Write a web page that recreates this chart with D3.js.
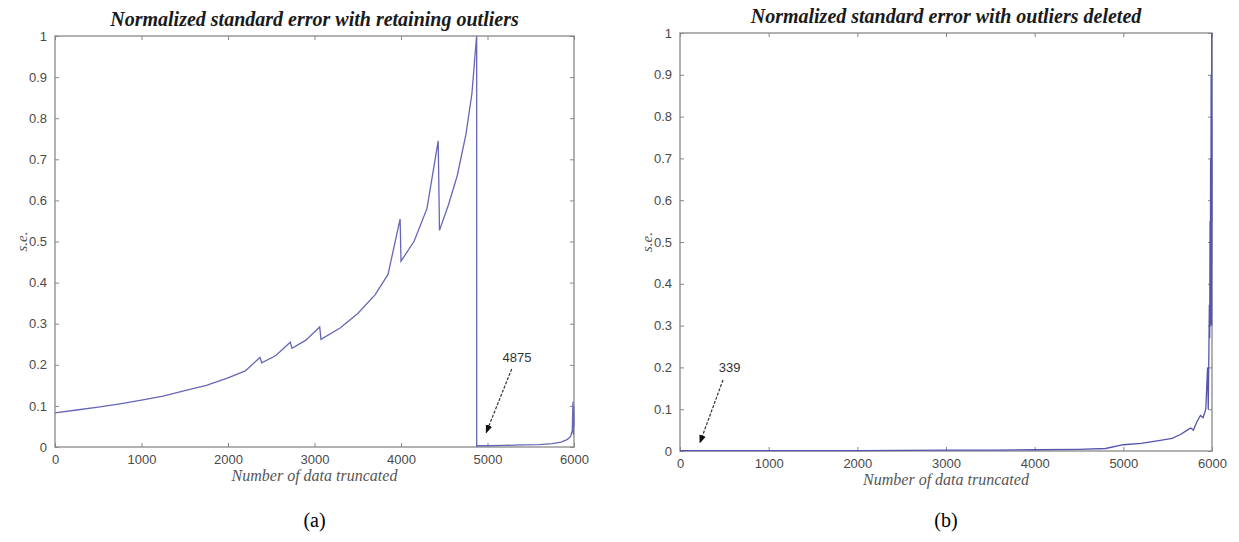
<!DOCTYPE html>
<head>
    <meta charset="utf-8">
    <script src="https://cdn.jsdelivr.net/npm/d3@7"></script>
    <style>
        body { margin: 0; background: white; }
        .tick text { font-family: "Liberation Sans", Arial, sans-serif; font-size: 13px; fill: #4a4a4a; }
        .tick line { stroke: #888; }
    </style>
</head>

<body>
<script>

    // data
    var xTicks = [0, 1000, 2000, 3000, 4000, 5000, 6000];
    var yTicks = [0, 0.1, 0.2, 0.3, 0.4, 0.5, 0.6, 0.7, 0.8, 0.9, 1];

    // (a) retaining outliers
    var retainX = [0, 250, 500, 750, 1000, 1250, 1500, 1750, 2000, 2200, 2370, 2390, 2550, 2720, 2740, 2900, 3060, 3075,
        3300, 3500, 3700, 3850, 3990, 4000, 4150, 4300, 4430, 4445, 4550, 4650, 4750, 4820, 4870, 4875, 4875, 4880,
        5000, 5200, 5400, 5600, 5750, 5850, 5920, 5960, 5980, 5988, 5992, 5996, 6000];
    var retainY = [0.083, 0.09, 0.097, 0.105, 0.114, 0.124, 0.137, 0.15, 0.168, 0.185, 0.218, 0.205, 0.222, 0.255, 0.24, 0.26, 0.292, 0.262,
        0.29, 0.325, 0.37, 0.42, 0.555, 0.452, 0.5, 0.58, 0.745, 0.527, 0.59, 0.66, 0.76, 0.86, 0.99, 1.0, 0.0, 0.003,
        0.003, 0.004, 0.005, 0.006, 0.008, 0.012, 0.018, 0.025, 0.04, 0.11, 0.03, 0.1, 0.05];

    // (b) outliers deleted
    var deletedX = [0, 1000, 2000, 3000, 3500, 4000, 4500, 4800, 5000, 5200, 5400, 5550, 5650, 5720, 5760, 5790, 5830, 5870, 5900,
        5930, 5950, 5958, 5966, 5970, 5974, 5978, 5981, 5984, 5987, 5990, 5992, 5994, 5996, 5997, 5998, 5999, 6000];
    var deletedY = [0.001, 0.001, 0.001, 0.002, 0.002, 0.003, 0.004, 0.006, 0.015, 0.018, 0.025, 0.03, 0.04, 0.05, 0.055, 0.05, 0.07, 0.085, 0.08,
        0.1, 0.2, 0.1, 0.26, 0.35, 0.27, 0.55, 0.3, 0.7, 0.35, 0.9, 0.4, 0.65, 0.3, 1.0, 0.45, 0.8, 0.55];

    // annotations: [label, textX, textY, tailX, tailY, headX, headY] in data units
    var noteA = ["4875", 5340, 0.218, 5280, 0.19, 4985, 0.035];
    var noteB = ["339", 560, 0.2, 485, 0.17, 225, 0.02];

    var titles = ["Normalized standard error with retaining outliers", "Normalized standard error with outliers deleted"];
    var captions = ["(a)", "(b)"];

    var svg = d3.select("body").append("svg")
        .attr("width", 1239)
        .attr("height", 542);

    svg.append("defs").append("marker")
        .attr("id", "arrow")
        .attr("viewBox", "0 0 10 10")
        .attr("refX", 9).attr("refY", 5)
        .attr("markerWidth", 7).attr("markerHeight", 7)
        .attr("orient", "auto")
        .append("path")
        .attr("d", "M0,1 L10,5 L0,9 z")
        .attr("fill", "#111");

    function drawPanel(box, xs, ys, note, title, caption, lineColor) {
        var x = d3.scaleLinear().domain([0, 6000]).range([box.left, box.right]);
        var y = d3.scaleLinear().domain([0, 1]).range([box.bottom, box.top]);
        var g = svg.append("g");

        // frame
        g.append("rect")
            .attr("x", box.left).attr("y", box.top)
            .attr("width", box.right - box.left).attr("height", box.bottom - box.top)
            .attr("fill", "none").attr("stroke", "#999").attr("stroke-width", 1.5);

        var fmt = function(d) { return d; };
        g.append("g").attr("transform", "translate(0," + box.bottom + ")")
            .call(d3.axisBottom(x).tickValues(xTicks).tickFormat(fmt).tickSizeInner(-4).tickSizeOuter(0).tickPadding(8));
        g.append("g").attr("transform", "translate(0," + box.top + ")")
            .call(d3.axisTop(x).tickValues(xTicks).tickFormat("").tickSizeInner(-4).tickSizeOuter(0));
        g.append("g").attr("transform", "translate(" + box.left + ",0)")
            .call(d3.axisLeft(y).tickValues(yTicks).tickFormat(fmt).tickSizeInner(-4).tickSizeOuter(0).tickPadding(8));
        g.append("g").attr("transform", "translate(" + box.right + ",0)")
            .call(d3.axisRight(y).tickValues(yTicks).tickFormat("").tickSizeInner(-4).tickSizeOuter(0));
        g.selectAll(".domain").remove();

        var pts = xs.map(function(v, i) { return [v, ys[i]]; });
        var line = d3.line().x(function(d) { return x(d[0]); }).y(function(d) { return y(d[1]); });
        g.append("path").datum(pts)
            .attr("d", line)
            .attr("fill", "none")
            .attr("stroke", lineColor)
            .attr("stroke-width", 1.3);

        // annotation
        g.append("text")
            .attr("x", x(note[1])).attr("y", y(note[2]))
            .attr("text-anchor", "middle")
            .attr("dy", "0.35em")
            .style("font-family", "Liberation Sans, Arial, sans-serif")
            .style("font-size", "13px")
            .style("fill", "#333")
            .text(note[0]);
        g.append("line")
            .attr("x1", x(note[3])).attr("y1", y(note[4]))
            .attr("x2", x(note[5])).attr("y2", y(note[6]))
            .attr("stroke", "#333").attr("stroke-width", 1.2)
            .attr("stroke-dasharray", "3,1.5")
            .attr("marker-end", "url(#arrow)");

        var cx = (box.left + box.right) / 2;
        g.append("text")
            .attr("x", cx).attr("y", box.top - 10)
            .attr("text-anchor", "middle")
            .style("font-family", "Liberation Serif, Times New Roman, serif")
            .style("font-style", "italic").style("font-weight", "bold")
            .style("font-size", "20px")
            .style("fill", "#1a1a1a")
            .text(title);
        g.append("text")
            .attr("x", cx).attr("y", box.bottom + 34)
            .attr("text-anchor", "middle")
            .style("font-family", "Liberation Serif, Times New Roman, serif")
            .style("font-style", "italic")
            .style("font-size", "16px")
            .style("fill", "#555")
            .text("Number of data truncated");
        g.append("text")
            .attr("transform", "translate(" + (box.left - 28) + "," + ((box.top + box.bottom) / 2) + ") rotate(-90)")
            .attr("text-anchor", "middle")
            .style("font-family", "Liberation Serif, Times New Roman, serif")
            .style("font-style", "italic")
            .style("font-size", "15px")
            .style("fill", "#555")
            .text("s.e.");
        g.append("text")
            .attr("x", cx).attr("y", 527)
            .attr("text-anchor", "middle")
            .style("font-family", "Liberation Serif, Times New Roman, serif")
            .style("font-size", "20px")
            .style("fill", "#000")
            .text(caption);
    }

    drawPanel({left: 55, right: 574, top: 36, bottom: 447}, retainX, retainY, noteA, titles[0], captions[0], "#6666b8");
    drawPanel({left: 680, right: 1212, top: 33, bottom: 451}, deletedX, deletedY, noteB, titles[1], captions[1], "#5555b0");

</script>
</body>
